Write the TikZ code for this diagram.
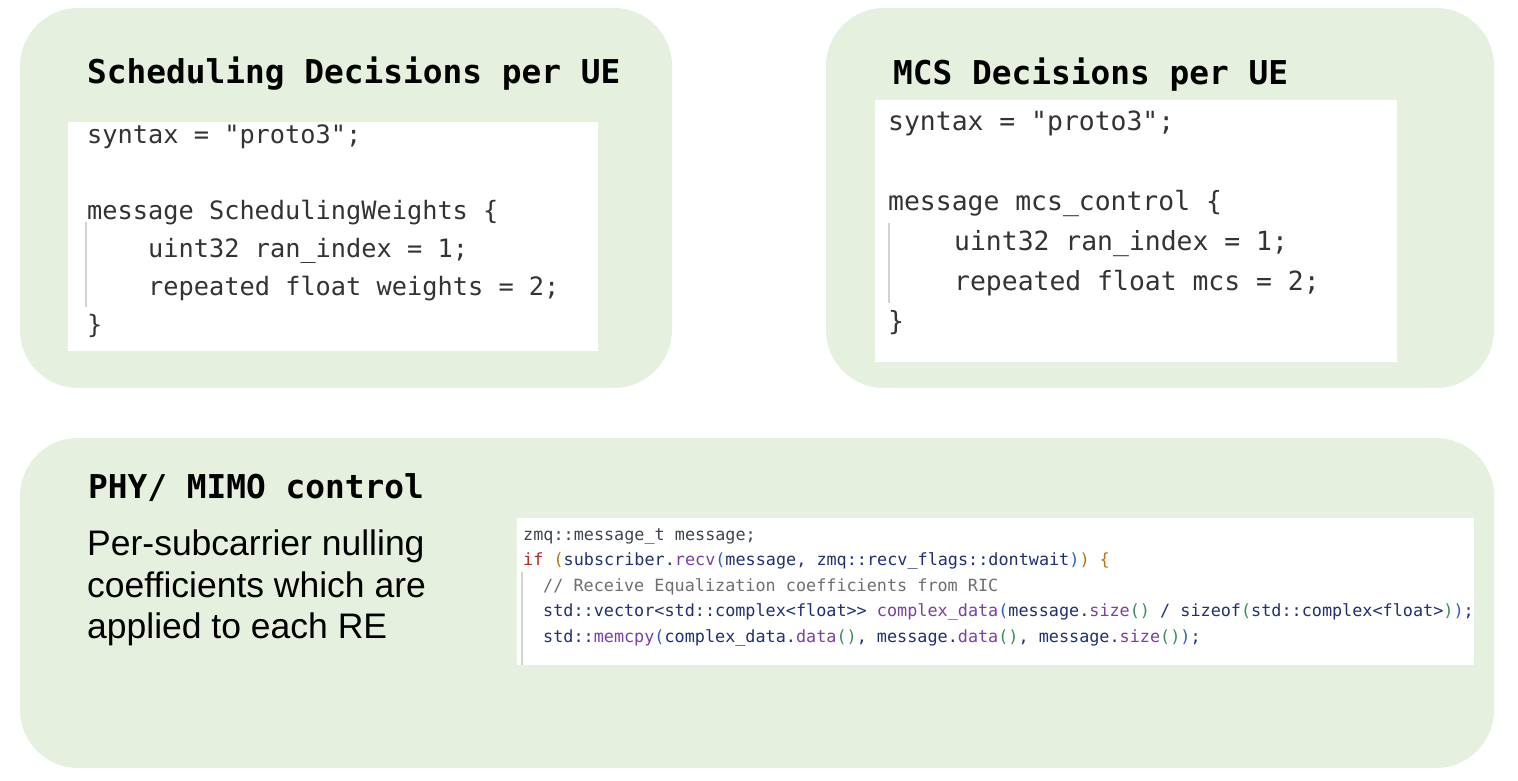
\documentclass[tikz,border=0pt]{standalone}
\usepackage{fontspec}
\usepackage{tikz}
\usetikzlibrary{positioning}
\newfontfamily\codefont{DejaVu Sans Mono}[Ligatures=TeXOff]
\newfontfamily\bodyfont{Liberation Sans}
\definecolor{panelgreen}{HTML}{E5F1DE}
\definecolor{protogray}{HTML}{333333}
\definecolor{guidegray}{HTML}{D2D2D2}
\definecolor{cppgray}{HTML}{3E4450}
\definecolor{cppnavy}{HTML}{1F3070}
\definecolor{cppred}{HTML}{B02A2A}
\definecolor{cppbrown}{HTML}{B5721E}
\definecolor{cppblue}{HTML}{2F5FC0}
\definecolor{cppgreen}{HTML}{3C8C5A}
\definecolor{cpppurple}{HTML}{7B3FA0}
\definecolor{cppcomment}{HTML}{6E6E6E}
\newcommand{\ckw}[1]{\textcolor{cppred}{#1}}
\newcommand{\cfun}[1]{\textcolor{cpppurple}{#1}}
\newcommand{\cpa}[1]{\textcolor{cppbrown}{#1}}
\newcommand{\cpb}[1]{\textcolor{cppblue}{#1}}
\newcommand{\cpc}[1]{\textcolor{cppgreen}{#1}}
\tikzset{panel/.style={fill=panelgreen,rounded corners=58pt}}
\tikzset{codearea/.style={fill=white}}
\tikzset{guide/.style={draw=guidegray,line width=1.5pt}}
\tikzset{heading/.style={anchor=base west,inner sep=0pt,font=\codefont\bfseries\fontsize{32.8}{38}\selectfont}}
\tikzset{blurb/.style={anchor=base west,inner sep=0pt,font=\bodyfont\fontsize{35.5}{41.5}\selectfont}}
\tikzset{protoline/.style={anchor=base west,inner sep=0pt,text=protogray,font=\codefont\fontsize{25.3}{30}\selectfont}}
\tikzset{mcsline/.style={protoline,font=\codefont\fontsize{26.4}{31}\selectfont}}
\tikzset{cppline/.style={anchor=base west,inner sep=0pt,text=cppnavy,font=\codefont\fontsize{16.8}{20}\selectfont}}

\begin{document}
\begin{tikzpicture}[x=1pt,y=-1pt]
	\useasboundingbox (0,0) rectangle (1518,780);
	\fill[panel] (20,8) rectangle (672,388);
	\fill[panel] (826,8) rectangle (1494,388);
	\fill[panel] (20,438) rectangle (1494,768);

	%% Scheduling weights
	\node[heading] (schedtitle) at (87,83) {Scheduling Decisions per UE};
	\fill[codearea] (68,122) rectangle (598,351);
	\draw[guide] (86,222) -- (86,307);
	\node[protoline] (schedsyntax) at (87,143) {syntax = "proto3";};
	\node[protoline] (schedmsg) at (87,219) {message SchedulingWeights \{};
	\node[protoline] (schedidx) at (148,257) {uint32 ran\_index = 1;};
	\node[protoline] (schedweights) at (148,295) {repeated float weights = 2;};
	\node[protoline] (schedclose) at (87,333) {\}};

	%% MCS control
	\node[heading] (mcstitle) at (893,84) {MCS Decisions per UE};
	\fill[codearea] (875,100) rectangle (1397,362);
	\draw[guide] (889,223) -- (889,303);
	\node[mcsline] (mcssyntax) at (888,130) {syntax = "proto3";};
	\node[mcsline] (mcsmsg) at (888,210) {message mcs\_control \{};
	\node[mcsline] (mcsidx) at (954,250) {uint32 ran\_index = 1;};
	\node[mcsline] (mcsvals) at (954,290) {repeated float mcs = 2;};
	\node[mcsline] (mcsclose) at (888,330) {\}};

	%% PHY / MIMO
	\node[heading] (phytitle) at (88,498) {PHY/ MIMO control};
	\node[blurb] (phyline1) at (87,555) {Per-subcarrier nulling};
	\node[blurb] (phyline2) at (87,597) {coefficients which are};
	\node[blurb] (phyline3) at (87,638) {applied to each RE};
	\fill[codearea] (517,518) rectangle (1474,665);
	\draw[guide] (522,572) -- (522,665);
	\node[cppline,text=cppgray] (cppmsg) at (523,540) {zmq::message\_t message;};
	\node[cppline] (cppif) at (523,565.5) {\ckw{if} \cpa{(}subscriber.\cfun{recv}\cpb{(}message, zmq::recv\_flags::dontwait\cpb{)}\cpa{)} \cpa{\{}};
	\node[cppline,text=cppcomment] (cppnote) at (543,591) {// Receive Equalization coefficients from RIC};
	\node[cppline] (cppvec) at (543,616.5) {std::vector<std::complex<float>> \cfun{complex\_data}\cpb{(}message.\cfun{size}\cpc{()} / sizeof\cpc{(}std::complex<float>\cpc{)}\cpb{)};};
	\node[cppline] (cppcopy) at (543,642) {std::\cfun{memcpy}\cpb{(}complex\_data.\cfun{data}\cpc{()}, message.\cfun{data}\cpc{()}, message.\cfun{size}\cpc{()}\cpb{)};};
\end{tikzpicture}
\end{document}
